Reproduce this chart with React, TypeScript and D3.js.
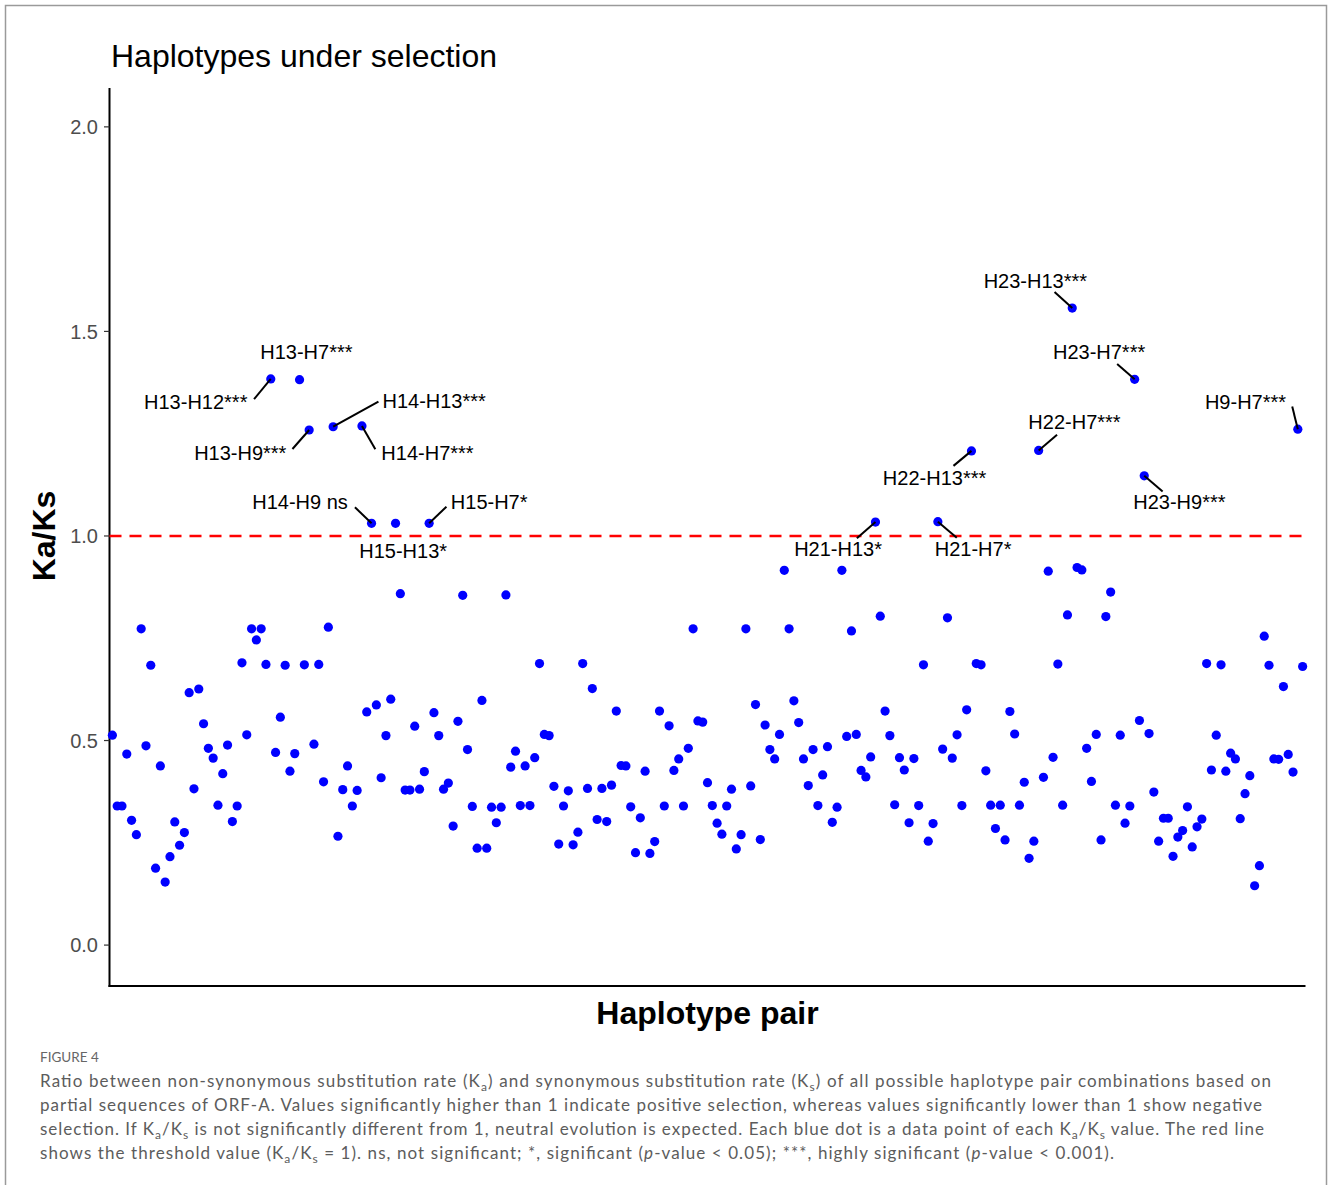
import { scaleLinear, scalePoint } from "d3";

const width = 1330;
const height = 1185;

// Ka/Ks value for every haplotype pair, in plot order (left to right)
const kaks = [
  0.513, 0.34, 0.34, 0.467, 0.305, 0.27, 0.773, 0.487, 0.684, 0.188,
  0.438, 0.154, 0.216, 0.301, 0.244, 0.275, 0.617, 0.382, 0.626, 0.541,
  0.481, 0.457, 0.342, 0.419, 0.489, 0.302, 0.34, 0.69, 0.514, 0.773,
  0.746, 0.773, 0.686, 1.384, 0.471, 0.557, 0.684, 0.425, 0.468, 1.382,
  0.685, 1.259, 0.491, 0.686, 0.399, 0.777, 1.267, 0.266, 0.38, 0.438,
  0.34, 0.378, 1.269, 0.57, 1.031, 0.587, 0.409, 0.512, 0.601, 1.031,
  0.859, 0.379, 0.379, 0.535, 0.381, 0.424, 1.031, 0.568, 0.512, 0.381,
  0.396, 0.291, 0.547, 0.855, 0.478, 0.339, 0.237, 0.598, 0.237, 0.337,
  0.299, 0.337, 0.856, 0.435, 0.474, 0.341, 0.438, 0.341, 0.458, 0.688,
  0.515, 0.512, 0.388, 0.247, 0.34, 0.377, 0.245, 0.276, 0.688, 0.383,
  0.627, 0.307, 0.383, 0.302, 0.391, 0.572, 0.439, 0.438, 0.338, 0.226,
  0.311, 0.425, 0.224, 0.253, 0.572, 0.34, 0.536, 0.427, 0.455, 0.34,
  0.481, 0.773, 0.548, 0.545, 0.397, 0.341, 0.298, 0.271, 0.34, 0.381,
  0.235, 0.27, 0.773, 0.389, 0.588, 0.258, 0.538, 0.478, 0.455, 0.515,
  0.916, 0.773, 0.597, 0.544, 0.455, 0.39, 0.478, 0.341, 0.416, 0.485,
  0.3, 0.337, 0.916, 0.51, 0.768, 0.515, 0.427, 0.411, 0.46, 1.034,
  0.804, 0.572, 0.512, 0.343, 0.458, 0.428, 0.299, 0.456, 0.341, 0.685,
  0.254, 0.297, 1.035, 0.479, 0.8, 0.457, 0.514, 0.341, 0.575, 1.208,
  0.688, 0.685, 0.426, 0.342, 0.285, 0.342, 0.257, 0.571, 0.516, 0.342,
  0.398, 0.212, 0.254, 1.209, 0.41, 0.914, 0.459, 0.687, 0.342, 0.807,
  1.557, 0.923, 0.917, 0.481, 0.4, 0.515, 0.257, 0.803, 0.863, 0.342,
  0.513, 0.298, 0.34, 1.383, 0.549, 1.147, 0.517, 0.374, 0.254, 0.31,
  0.31, 0.217, 0.264, 0.28, 0.338, 0.24, 0.289, 0.308, 0.688, 0.428,
  0.513, 0.685, 0.425, 0.469, 0.455, 0.309, 0.37, 0.414, 0.145, 0.194,
  0.755, 0.684, 0.455, 0.454, 0.632, 0.466, 0.423, 1.261, 0.681,
];

// labelled pairs: index into kaks + text
const labelIndex = [33, 39, 41, 46, 52, 54, 59, 66, 159, 172, 179, 193, 200, 213, 215, 247];
const labelText = [
  "H13-H12***", "H13-H7***", "H13-H9***", "H14-H13***", "H14-H7***",
  "H14-H9 ns", "H15-H13*", "H15-H7*", "H21-H13*", "H21-H7*",
  "H22-H13***", "H22-H7***", "H23-H13***", "H23-H7***", "H23-H9***", "H9-H7***",
];

const yTicks = [0, 0.5, 1, 1.5, 2];
const threshold = 1;

// repel-like placement (px, relative to the dot): text left/baseline, segment start
const labelNudge: [number, number, number | null, number | null][] = [
  [-126.7, 30.3, -16.7, 20.3],
  [-39.3, -20.4, null, null],
  [-115, 30, -16.7, 19],
  [49.3, -18.4, 45.3, -25],
  [19.4, 34, 13.4, 23.3],
  [-119.3, -14, -16.6, -16],
  [-36.3, 35, null, null],
  [21.7, -14, 17.3, -16.6],
  [-81.3, 34, -18.6, 16.3],
  [-3.1, 34.3, 18.9, 16],
  [-88.6, 34, -18, 15],
  [-10.3, -21.4, 18.4, -15.7],
  [-88.6, -20, -17.7, -16],
  [-81.7, -20, -17.5, -15.3],
  [-11, 33.3, 18.4, 15.7],
  [-92.9, -20, -5.6, -22.6],
];

// caption lines: plain text, "_x" = subscript x, "~p" = italic p
const captionLines = [
  ["Ratio between non-synonymous substitution rate (K", "_a", ") and synonymous substitution rate (K", "_s", ") of all possible haplotype pair combinations based on"],
  ["partial sequences of ORF-A. Values significantly higher than 1 indicate positive selection, whereas values significantly lower than 1 show negative"],
  ["selection. If K", "_a", "/K", "_s", " is not significantly different from 1, neutral evolution is expected. Each blue dot is a data point of each K", "_a", "/K", "_s", " value. The red line"],
  ["shows the threshold value (K", "_a", "/K", "_s", " = 1). ns, not significant; *, significant (", "~p", "-value < 0.05); ***, highly significant (", "~p", "-value < 0.001)."],
];
const captionWidths = [1231, 1222, 1224, 1074];

const plotLeft = 109.5;
const plotRight = 1305.5;
const plotTop = 88;
const plotBottom = 986;

const pairs = kaks.map((_, i) => String(i));
const x = scalePoint<string>().domain(pairs).range([plotLeft, plotRight]).padding(0.6);
const y = scaleLinear().domain([-0.1, 2.095]).range([plotBottom, plotTop]);

const chartFont = "'Liberation Sans', Arial, Helvetica, sans-serif";
const captionFont = "Lato, 'Open Sans', sans-serif";

const captionSpans = (parts: string[]) => {
  let wasSub = false;
  return parts.map((p, i) => {
    const isSub = p.startsWith("_");
    const isItalic = p.startsWith("~");
    const txt = isSub || isItalic ? p.slice(1) : p;
    const dy = isSub ? 4 : wasSub ? -4 : 0;
    wasSub = isSub;
    return (
      <tspan
        key={i}
        dy={dy}
        fontSize={isSub ? 12 : undefined}
        fontStyle={isItalic ? "italic" : undefined}
      >
        {txt}
      </tspan>
    );
  });
};

export default function App() {
  return (
    <svg
      width={width}
      height={height}
      style={{ position: "absolute", left: 0, top: 0, background: "white" }}
    >
      <rect x={5.5} y={5.5} width={1321} height={1200} fill="white" stroke="#9a9a9a" strokeWidth={1.5} />

      <text x={111} y={67} fontFamily={chartFont} fontSize={32} fill="black">
        Haplotypes under selection
      </text>

      {/* y axis */}
      <line x1={plotLeft} x2={plotLeft} y1={plotTop} y2={plotBottom + 1} stroke="black" strokeWidth={2} />
      {yTicks.map((t) => (
        <g key={t}>
          <line x1={plotLeft - 5.5} x2={plotLeft} y1={y(t)} y2={y(t)} stroke="#333" strokeWidth={1.2} />
          <text
            x={98}
            y={y(t)}
            dy="0.36em"
            textAnchor="end"
            fontFamily={chartFont}
            fontSize={20}
            fill="#4d4d4d"
          >
            {t.toFixed(1)}
          </text>
        </g>
      ))}
      {/* x axis */}
      <line x1={plotLeft - 1} x2={plotRight} y1={plotBottom} y2={plotBottom} stroke="black" strokeWidth={2} />

      <text
        transform={`translate(55,${y(1)}) rotate(-90)`}
        textAnchor="middle"
        fontFamily={chartFont}
        fontSize={32}
        fontWeight="bold"
      >
        Ka/Ks
      </text>
      <text
        x={(plotLeft + plotRight) / 2}
        y={1024}
        textAnchor="middle"
        fontFamily={chartFont}
        fontSize={32}
        fontWeight="bold"
      >
        Haplotype pair
      </text>

      <line
        x1={plotLeft}
        x2={plotRight}
        y1={y(threshold)}
        y2={y(threshold)}
        stroke="#ff0000"
        strokeWidth={2.5}
        strokeDasharray="12 8"
      />

      {kaks.map((v, i) => (
        <circle key={i} cx={x(String(i))} cy={y(v)} r={4.6} fill="#0000ff" />
      ))}

      {labelIndex.map((idx, k) => {
        const px = x(String(idx)) as number;
        const py = y(kaks[idx]);
        const [dx, dy, sx, sy] = labelNudge[k];
        return (
          <g key={labelText[k]}>
            {sx !== null && sy !== null && (
              <line x1={px + sx} y1={py + sy} x2={px} y2={py} stroke="black" strokeWidth={2} />
            )}
            <text x={px + dx} y={py + dy} fontFamily={chartFont} fontSize={20} fill="black">
              {labelText[k]}
            </text>
          </g>
        );
      })}

      {/* caption */}
      <text x={40} y={1062} fontFamily={captionFont} fontSize={13.5} fill="#666">
        FIGURE 4
      </text>
      <g fontFamily={captionFont} fontSize={17} fill="#5c5c5c">
        {captionLines.map((parts, i) => (
          <text
            key={i}
            x={40}
            y={1087 + i * 24}
            textLength={captionWidths[i]}
            lengthAdjust="spacing"
          >
            {captionSpans(parts)}
          </text>
        ))}
      </g>
    </svg>
  );
}
